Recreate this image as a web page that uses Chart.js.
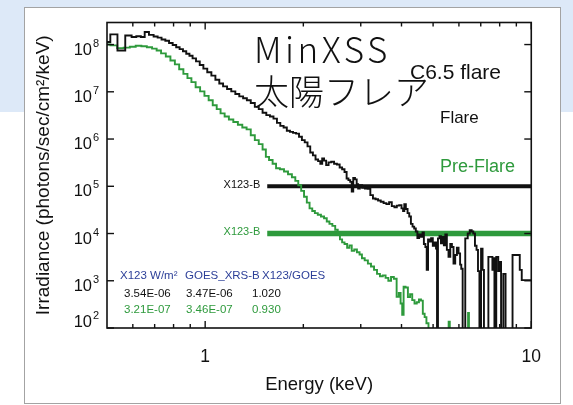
<!DOCTYPE html>
<html>
<head>
<meta charset="utf-8">
<script src="https://cdn.jsdelivr.net/npm/chart.js@4"></script>
<style>
  html, body { margin: 0; padding: 0; background: #fff; width: 573px; height: 405px; overflow: hidden; }
  #band { position: absolute; left: 0; top: 0; width: 573px; height: 112px; background: #dde9f8; }
  #panel { position: absolute; left: 24px; top: 7px; width: 535px; height: 395px; border: 1px solid #a3a3a3; background: #fff; }
  #panel canvas { display: block; }
  .headline { position: absolute; color: #111; white-space: nowrap;
    font-family: "Noto Sans CJK JP Light", "Noto Sans CJK JP", sans-serif; font-weight: 300;
    font-size: 35px; line-height: 42px; }
</style>
</head>
<body>
<div id="band"></div>
<div id="panel"><canvas id="spectrum" width="535" height="395"></canvas></div>
<div class="headline" style="left:254px; top:27px; letter-spacing:3.5px;">MinXSS</div>
<div class="headline" style="left:254px; top:69px;">太陽フレア</div>
<script>
// MinXSS X123 spectrum, C6.5 flare vs. pre-flare (energy in keV, irradiance in photons/sec/cm2/keV)
const flareEnergy = [
  0.500, 0.524, 0.553, 0.585, 0.605, 0.625, 0.645, 0.660, 0.685, 0.705,
  0.725, 0.745, 0.765, 0.785, 0.805, 0.825, 0.845, 0.865, 0.885, 0.905,
  0.925, 0.950, 0.975, 1.000, 1.030, 1.060, 1.090, 1.120, 1.150, 1.185,
  1.220, 1.255, 1.290, 1.325, 1.360, 1.400, 1.440, 1.480, 1.520, 1.560,
  1.600, 1.640, 1.680, 1.720, 1.760, 1.800, 1.840, 1.880, 1.920, 1.960,
  2.000, 2.040, 2.080, 2.120, 2.160, 2.200, 2.240, 2.270, 2.300, 2.330,
  2.370, 2.410, 2.460, 2.510, 2.560, 2.610, 2.650, 2.700, 2.730, 2.770,
  2.800, 2.830, 2.860, 2.900, 2.930, 2.960, 3.000, 3.060, 3.120, 3.180,
  3.240, 3.300, 3.360, 3.420, 3.490, 3.560, 3.630, 3.700, 3.770, 3.840,
  3.900, 3.970, 4.030, 4.060, 4.100, 4.150, 4.200, 4.250, 4.300, 4.350,
  4.400, 4.450, 4.500, 4.560, 4.620, 4.660, 4.710, 4.760, 4.800, 4.850,
  4.900, 4.960, 5.020, 5.080, 5.130, 5.150, 5.200, 5.260, 5.310, 5.370,
  5.420, 5.480, 5.540, 5.610, 5.680, 5.740, 5.810, 5.880, 5.950, 6.020,
  6.080, 6.120, 6.200, 6.350, 6.420, 6.530, 6.600, 6.680, 6.760, 6.830,
  6.900, 6.970, 7.060, 7.120, 7.200, 7.580, 7.620, 7.680, 7.740, 7.880,
  7.960, 8.040, 8.120, 8.300, 8.380, 9.160, 9.280, 9.420, 10.00
];
const flareIrr = [
  1.13e8, 1.64e8, 7.5e7, 1.56e8, 1.45e8, 1.50e8, 1.45e8, 1.84e8, 1.60e8, 1.48e8,
  1.40e8, 1.28e8, 1.20e8, 1.08e8, 9.8e7, 8.8e7, 8.0e7, 7.2e7, 6.4e7, 5.8e7,
  5.1e7, 4.4e7, 3.7e7, 3.1e7, 2.6e7, 2.2e7, 1.8e7, 1.5e7, 1.3e7, 1.15e7,
  1.02e7, 9.0e6, 8.0e6, 7.3e6, 6.6e6, 5.8e6, 4.8e6, 4.3e6, 3.6e6, 3.2e6,
  3.0e6, 2.7e6, 2.2e6, 1.9e6, 1.75e6, 1.5e6, 1.42e6, 1.35e6, 1.30e6, 1.12e6,
  9.5e5, 8.5e5, 7.0e5, 5.2e5, 4.5e5, 3.7e5, 3.4e5, 3.0e5, 3.9e5, 3.5e5,
  2.8e5, 3.2e5, 3.3e5, 3.0e5, 2.9e5, 2.5e5, 2.3e5, 2.0e5, 1.46e5, 1.35e5,
  1.24e5, 7.7e4, 1.5e5, 1.4e5, 1.1e5, 9.0e4, 1.05e5, 9.3e4, 9.0e4, 8.8e4,
  6.5e4, 5.5e4, 5.3e4, 5.0e4, 4.7e4, 4.4e4, 4.2e4, 4.6e4, 3.8e4, 3.6e4,
  3.9e4, 4.0e4, 3.4e4, 3.0e4, 4.2e4, 3.3e4, 2.7e4, 2.3e4, 1.6e4, 1.4e4,
  1.28e4, 1.1e4, 8.0e3, 9.5e3, 8.5e3, 1.05e4, 6.0e3, 5.2e3, 1.7e3, 7.5e3,
  6.8e3, 8.0e3, 5.5e3, 6.5e3, 4.8e3, 1, 7.9e3, 8.8e3, 6.2e3, 8.5e3,
  5.6e3, 9.5e3, 4.5e3, 3.2e3, 6.0e3, 5.2e3, 2.3e3, 3.5e3, 5.0e3, 3.8e3,
  2.2e3, 1.8e3, 1, 7.9e3, 1.0e4, 1.18e4, 1.1e4, 1.0e4, 5.5e3, 4.5e3,
  1.6e3, 1, 4.8e3, 1.7e3, 1, 3.2e3, 1.7e3, 3.0e3, 1, 3.2e3,
  1.6e3, 2.5e3, 1, 1.4e3, 1, 3.5e3, 1.7e3, 1.03e3, 1.03e3
];
const preEnergy = [
  0.500, 0.525, 0.550, 0.575, 0.600, 0.625, 0.650, 0.675, 0.700, 0.720,
  0.745, 0.770, 0.795, 0.820, 0.845, 0.870, 0.895, 0.920, 0.950, 0.980,
  1.010, 1.040, 1.070, 1.100, 1.130, 1.165, 1.200, 1.240, 1.280, 1.320,
  1.360, 1.400, 1.440, 1.480, 1.520, 1.550, 1.590, 1.630, 1.670, 1.720,
  1.770, 1.820, 1.870, 1.910, 1.950, 1.990, 2.030, 2.070, 2.110, 2.150,
  2.190, 2.240, 2.290, 2.340, 2.380, 2.430, 2.480, 2.530, 2.570, 2.610,
  2.650, 2.700, 2.750, 2.790, 2.840, 2.890, 2.950, 3.000, 3.050, 3.120,
  3.190, 3.260, 3.330, 3.400, 3.470, 3.540, 3.610, 3.680, 3.750, 3.830,
  3.900, 3.950, 4.000, 4.040, 4.080, 4.150, 4.220, 4.280, 4.350, 4.420,
  4.490, 4.560, 4.620, 4.680, 4.740, 4.800, 4.880, 5.560, 5.600, 5.650,
  6.380, 6.420, 6.460, 7.000
];
const preIrr = [
  1.0e8, 9.6e7, 8.4e7, 8.6e7, 9.0e7, 9.4e7, 9.2e7, 8.8e7, 8.2e7, 7.5e7,
  6.5e7, 5.6e7, 4.6e7, 3.8e7, 3.0e7, 2.4e7, 1.95e7, 1.6e7, 1.25e7, 1.02e7,
  8.2e6, 6.6e6, 5.2e6, 4.3e6, 3.5e6, 3.0e6, 2.6e6, 2.3e6, 2.0e6, 1.75e6,
  1.6e6, 1.2e6, 9.5e5, 7.8e5, 6.0e5, 4.2e5, 3.6e5, 3.0e5, 2.4e5, 2.3e5,
  2.05e5, 1.8e5, 1.55e5, 1.3e5, 1.05e5, 8.0e4, 6.0e4, 4.5e4, 3.4e4, 3.0e4,
  2.7e4, 2.5e4, 2.3e4, 2.1e4, 1.8e4, 1.6e4, 1.45e4, 1.2e4, 1.05e4, 7.5e3,
  6.5e3, 6.0e3, 5.0e3, 5.6e3, 4.3e3, 4.6e3, 4.0e3, 3.6e3, 3.0e3, 2.7e3,
  2.3e3, 2.0e3, 1.7e3, 1.4e3, 1.25e3, 1.3e3, 1.15e3, 1.0e3, 1.2e3, 1.1e3,
  460, 550, 330, 190, 750, 720, 450, 520, 390, 330,
  350, 400, 380, 200, 170, 126, 1, 1, 136, 1,
  1, 207, 1, 1
];

// X123 band-integrated levels (horizontal reference bars)
const x123Energy = [1.55, 10];
const x123FlareLevel = [1e5, 1e5];
const x123PreLevel = [1e4, 1e4];

// Axis ticks
const xLabelTicks = [1, 10];
const xMinorTicks = [0.6, 0.7, 0.8, 0.9, 2, 3, 4, 5, 6, 7, 8, 9];
const yDecadeExps = [2, 3, 4, 5, 6, 7, 8];

// Irradiance summary table
const tableHeader = ['X123 W/m²', 'GOES_XRS-B', 'X123/GOES'];
const flareRow = ['3.54E-06', '3.47E-06', '1.020'];
const preRow = ['3.21E-07', '3.46E-07', '0.930'];

const BLACK = '#111111';
const GREEN = '#2e9a3c';
const NAVY = '#2c3f98';
const SANS = '"Liberation Sans", Arial, Helvetica, sans-serif';

const toPoints = (xs, ys) => xs.map((e, i) => ({ x: e, y: ys[i] }));

const frameAndLabels = {
  id: 'frameAndLabels',
  afterDatasetsDraw(chart) {
    const { ctx, chartArea: a, scales: { x, y } } = chart;
    ctx.save();
    const seg = (x1, y1, x2, y2) => { ctx.beginPath(); ctx.moveTo(x1, y1); ctx.lineTo(x2, y2); ctx.stroke(); };

    // plot frame
    ctx.strokeStyle = BLACK;
    ctx.lineWidth = 1.6;
    ctx.strokeRect(a.left, a.top, a.right - a.left, a.bottom - a.top);

    // inward tick marks
    ctx.lineWidth = 1.4;
    yDecadeExps.forEach(n => {
      const py = y.getPixelForValue(Math.pow(10, n));
      seg(a.left, py, a.left + 7, py);
      seg(a.right, py, a.right - 7, py);
    });
    xLabelTicks.forEach(v => {
      const px = x.getPixelForValue(v);
      seg(px, a.bottom, px, a.bottom - 7);
      seg(px, a.top, px, a.top + 7);
    });
    xMinorTicks.forEach(v => {
      const px = x.getPixelForValue(v);
      seg(px, a.bottom, px, a.bottom - 4);
      seg(px, a.top, px, a.top + 4);
    });

    // decade labels 10^n
    ctx.fillStyle = BLACK;
    yDecadeExps.forEach(n => {
      const py = y.getPixelForValue(Math.pow(10, n));
      const base = n === 2 ? py - 1 : py + 10;
      ctx.font = '16.5px ' + SANS;
      ctx.textAlign = 'right';
      ctx.textBaseline = 'alphabetic';
      ctx.fillText('10', a.left - 15, base);
      ctx.font = '11px ' + SANS;
      ctx.textAlign = 'left';
      ctx.fillText(String(n), a.left - 14, base - 8);
    });

    // X123-B level labels
    ctx.font = '11px ' + SANS;
    ctx.textAlign = 'right';
    ctx.textBaseline = 'middle';
    const lx = x.getPixelForValue(x123Energy[0]) - 7;
    ctx.fillStyle = BLACK;
    ctx.fillText('X123-B', lx, y.getPixelForValue(x123FlareLevel[0]) - 1);
    ctx.fillStyle = GREEN;
    ctx.fillText('X123-B', lx, y.getPixelForValue(x123PreLevel[0]) - 1.5);

    // legend-style captions
    ctx.textAlign = 'left';
    ctx.textBaseline = 'alphabetic';
    ctx.fillStyle = BLACK;
    ctx.font = '21px ' + SANS;
    ctx.fillText('C6.5 flare', 385, 71);
    ctx.font = '17px ' + SANS;
    ctx.fillText('Flare', 415, 115);
    ctx.fillStyle = GREEN;
    ctx.font = '18px ' + SANS;
    ctx.fillText('Pre-Flare', 415, 164);

    // summary table
    ctx.font = '11.5px ' + SANS;
    const colX = [95, 160, 237];
    const rowColX = [99, 161, 227];
    ctx.fillStyle = NAVY;
    tableHeader.forEach((t, i) => ctx.fillText(t, colX[i], 271));
    ctx.fillStyle = BLACK;
    flareRow.forEach((t, i) => ctx.fillText(t, rowColX[i], 288.5));
    ctx.fillStyle = GREEN;
    preRow.forEach((t, i) => ctx.fillText(t, rowColX[i], 304.5));

    ctx.restore();
  }
};

new Chart(document.getElementById('spectrum'), {
  type: 'line',
  data: {
    datasets: [
      { label: 'Flare', data: toPoints(flareEnergy, flareIrr), borderColor: BLACK, borderWidth: 1.9, stepped: 'middle', pointRadius: 0 },
      { label: 'Pre-Flare', data: toPoints(preEnergy, preIrr), borderColor: GREEN, borderWidth: 1.9, stepped: 'middle', pointRadius: 0 },
      { label: 'X123-B flare', data: toPoints(x123Energy, x123FlareLevel), borderColor: BLACK, borderWidth: 4, pointRadius: 0 },
      { label: 'X123-B pre-flare', data: toPoints(x123Energy, x123PreLevel), borderColor: GREEN, borderWidth: 5.5, pointRadius: 0 }
    ]
  },
  options: {
    responsive: false,
    animation: false,
    events: [],
    layout: { padding: { left: 0, right: 23, top: 14.5, bottom: 0 } },
    plugins: { legend: { display: false }, tooltip: { enabled: false } },
    scales: {
      x: {
        type: 'logarithmic', min: 0.5, max: 10,
        grid: { display: false, drawTicks: false },
        border: { display: false },
        afterBuildTicks: s => { s.ticks = xLabelTicks.map(v => ({ value: v })); },
        afterFit: s => { s.height = 75; },
        ticks: { color: BLACK, padding: 19, font: { family: SANS, size: 17.5 }, callback: v => String(v), autoSkip: false, maxRotation: 0 },
        title: { display: true, text: 'Energy (keV)', color: BLACK, font: { family: SANS, size: 18.5 }, padding: { top: 0, bottom: 7 } }
      },
      y: {
        type: 'logarithmic', min: 100, max: 2.93e8,
        grid: { display: false, drawTicks: false },
        border: { display: false },
        afterBuildTicks: s => { s.ticks = yDecadeExps.map(n => ({ value: Math.pow(10, n) })); },
        afterFit: s => { s.width = 82; },
        ticks: { display: false },
        title: { display: true, text: 'Irradiance (photons/sec/cm²/keV)', color: BLACK, font: { family: SANS, size: 19 }, padding: { top: 7, bottom: 0 } }
      }
    }
  },
  plugins: [frameAndLabels]
});
</script>
</body>
</html>
